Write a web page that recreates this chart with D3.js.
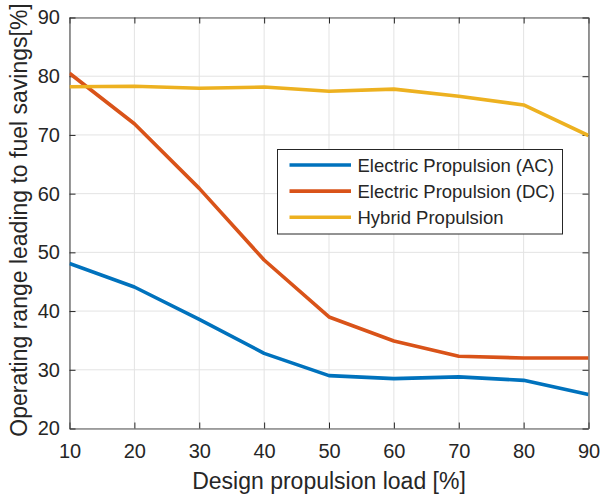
<!DOCTYPE html>
<html>
<head>
<meta charset="utf-8">
<script src="https://cdn.jsdelivr.net/npm/d3@7"></script>
<style>
  body { margin: 0; background: #fff; }
  svg { display: block; font-family: "Liberation Sans", Arial, Helvetica, sans-serif; }
</style>
</head>
<body>
<svg id="chart" width="600" height="495"></svg>
<script>
// data
const loads = [10, 20, 30, 40, 50, 60, 70, 80, 90];
const acValues = [48.1, 44.1, 38.6, 32.8, 29.0, 28.5, 28.8, 28.2, 25.8];
const dcValues = [80.5, 71.9, 60.9, 48.7, 39.0, 34.9, 32.3, 32.0, 32.0];
const hybridValues = [78.2, 78.3, 77.95, 78.15, 77.45, 77.8, 76.6, 75.1, 69.9];
const seriesNames = ["Electric Propulsion (AC)", "Electric Propulsion (DC)", "Hybrid Propulsion"];
const seriesColors = ["#0072BD", "#D95319", "#EDB120"];
const xTicks = [10, 20, 30, 40, 50, 60, 70, 80, 90];
const yTicks = [20, 30, 40, 50, 60, 70, 80, 90];

const svg = d3.select("#chart");
const margin = { t: 17.5, r: 11.5, b: 66.5, l: 69.5 };
const width = 600;
const height = 495;
const innerWidth = width - margin.l - margin.r;
const innerHeight = height - margin.t - margin.b;
const textColor = "#262626";

const xScale = d3.scaleLinear().domain([10, 90]).range([0, innerWidth]);
const yScale = d3.scaleLinear().domain([20, 90]).range([innerHeight, 0]);

const g = svg.append("g").attr("transform", `translate(${margin.l}, ${margin.t})`);

// grid
g.append("g")
  .selectAll("line")
  .data(xTicks)
  .join("line")
  .attr("x1", (d) => xScale(d))
  .attr("x2", (d) => xScale(d))
  .attr("y1", 0)
  .attr("y2", innerHeight)
  .attr("stroke", "#e3e3e3")
  .attr("stroke-width", 1);

g.append("g")
  .selectAll("line")
  .data(yTicks)
  .join("line")
  .attr("x1", 0)
  .attr("x2", innerWidth)
  .attr("y1", (d) => yScale(d))
  .attr("y2", (d) => yScale(d))
  .attr("stroke", "#e3e3e3")
  .attr("stroke-width", 1);

// axes, ticks pointing inward on all four sides
const tickLen = 6;
const styleAxis = (sel) => {
  sel.select(".domain").attr("stroke", "#555").attr("stroke-width", 1.2);
  sel.selectAll(".tick line").attr("stroke", "#262626").attr("stroke-width", 1);
  sel.selectAll(".tick text").attr("fill", textColor).style("font-size", "20px");
};

g.append("g")
  .attr("transform", `translate(0, ${innerHeight})`)
  .call(d3.axisBottom(xScale).tickValues(xTicks).tickSizeInner(-tickLen).tickSizeOuter(0).tickPadding(15))
  .call(styleAxis);

g.append("g")
  .call(d3.axisTop(xScale).tickValues(xTicks).tickSizeInner(-tickLen).tickSizeOuter(0))
  .call(styleAxis)
  .call((a) => a.selectAll(".tick text").remove());

g.append("g")
  .call(d3.axisLeft(yScale).tickValues(yTicks).tickSizeInner(-tickLen).tickSizeOuter(0).tickPadding(9.5))
  .call(styleAxis);

g.append("g")
  .attr("transform", `translate(${innerWidth}, 0)`)
  .call(d3.axisRight(yScale).tickValues(yTicks).tickSizeInner(-tickLen).tickSizeOuter(0))
  .call(styleAxis)
  .call((a) => a.selectAll(".tick text").remove());

// lines
const series = [acValues, dcValues, hybridValues];
const line = d3
  .line()
  .x((d, i) => xScale(loads[i]))
  .y((d) => yScale(d));

const clip = svg.append("defs").append("clipPath").attr("id", "plotClip");
clip.append("rect").attr("x", 0).attr("y", -2).attr("width", innerWidth).attr("height", innerHeight + 2);

g.append("g")
  .attr("clip-path", "url(#plotClip)")
  .selectAll("path")
  .data(series)
  .join("path")
  .attr("d", line)
  .attr("fill", "none")
  .attr("stroke", (d, i) => seriesColors[i])
  .attr("stroke-width", 3.6)
  .attr("stroke-linejoin", "round");

// axis labels
svg
  .append("text")
  .text("Design propulsion load [%]")
  .attr("x", margin.l + innerWidth / 2)
  .attr("y", 488.5)
  .attr("text-anchor", "middle")
  .attr("fill", textColor)
  .style("font-size", "23px");

svg
  .append("text")
  .text("Operating range leading to fuel savings[%]")
  .attr("transform", `translate(26.5, ${margin.t + innerHeight / 2 - 3}) rotate(-90)`)
  .attr("text-anchor", "middle")
  .attr("fill", textColor)
  .style("font-size", "23px");

// legend
const legend = svg.append("g").attr("transform", "translate(277.5, 149.5)");
legend
  .append("rect")
  .attr("width", 285)
  .attr("height", 84.5)
  .attr("fill", "#fff")
  .attr("stroke", "#262626")
  .attr("stroke-width", 1);

const rows = legend
  .selectAll(".row")
  .data(seriesNames)
  .join("g")
  .attr("class", "row")
  .attr("transform", (d, i) => `translate(0, ${15.5 + i * 26.1})`);

rows
  .append("line")
  .attr("x1", 12)
  .attr("x2", 73.5)
  .attr("stroke", (d, i) => seriesColors[i])
  .attr("stroke-width", 3.6);

rows
  .append("text")
  .text((d) => d)
  .attr("x", 80)
  .attr("y", 6.5)
  .attr("fill", textColor)
  .style("font-size", "18.5px");
</script>
</body>
</html>
